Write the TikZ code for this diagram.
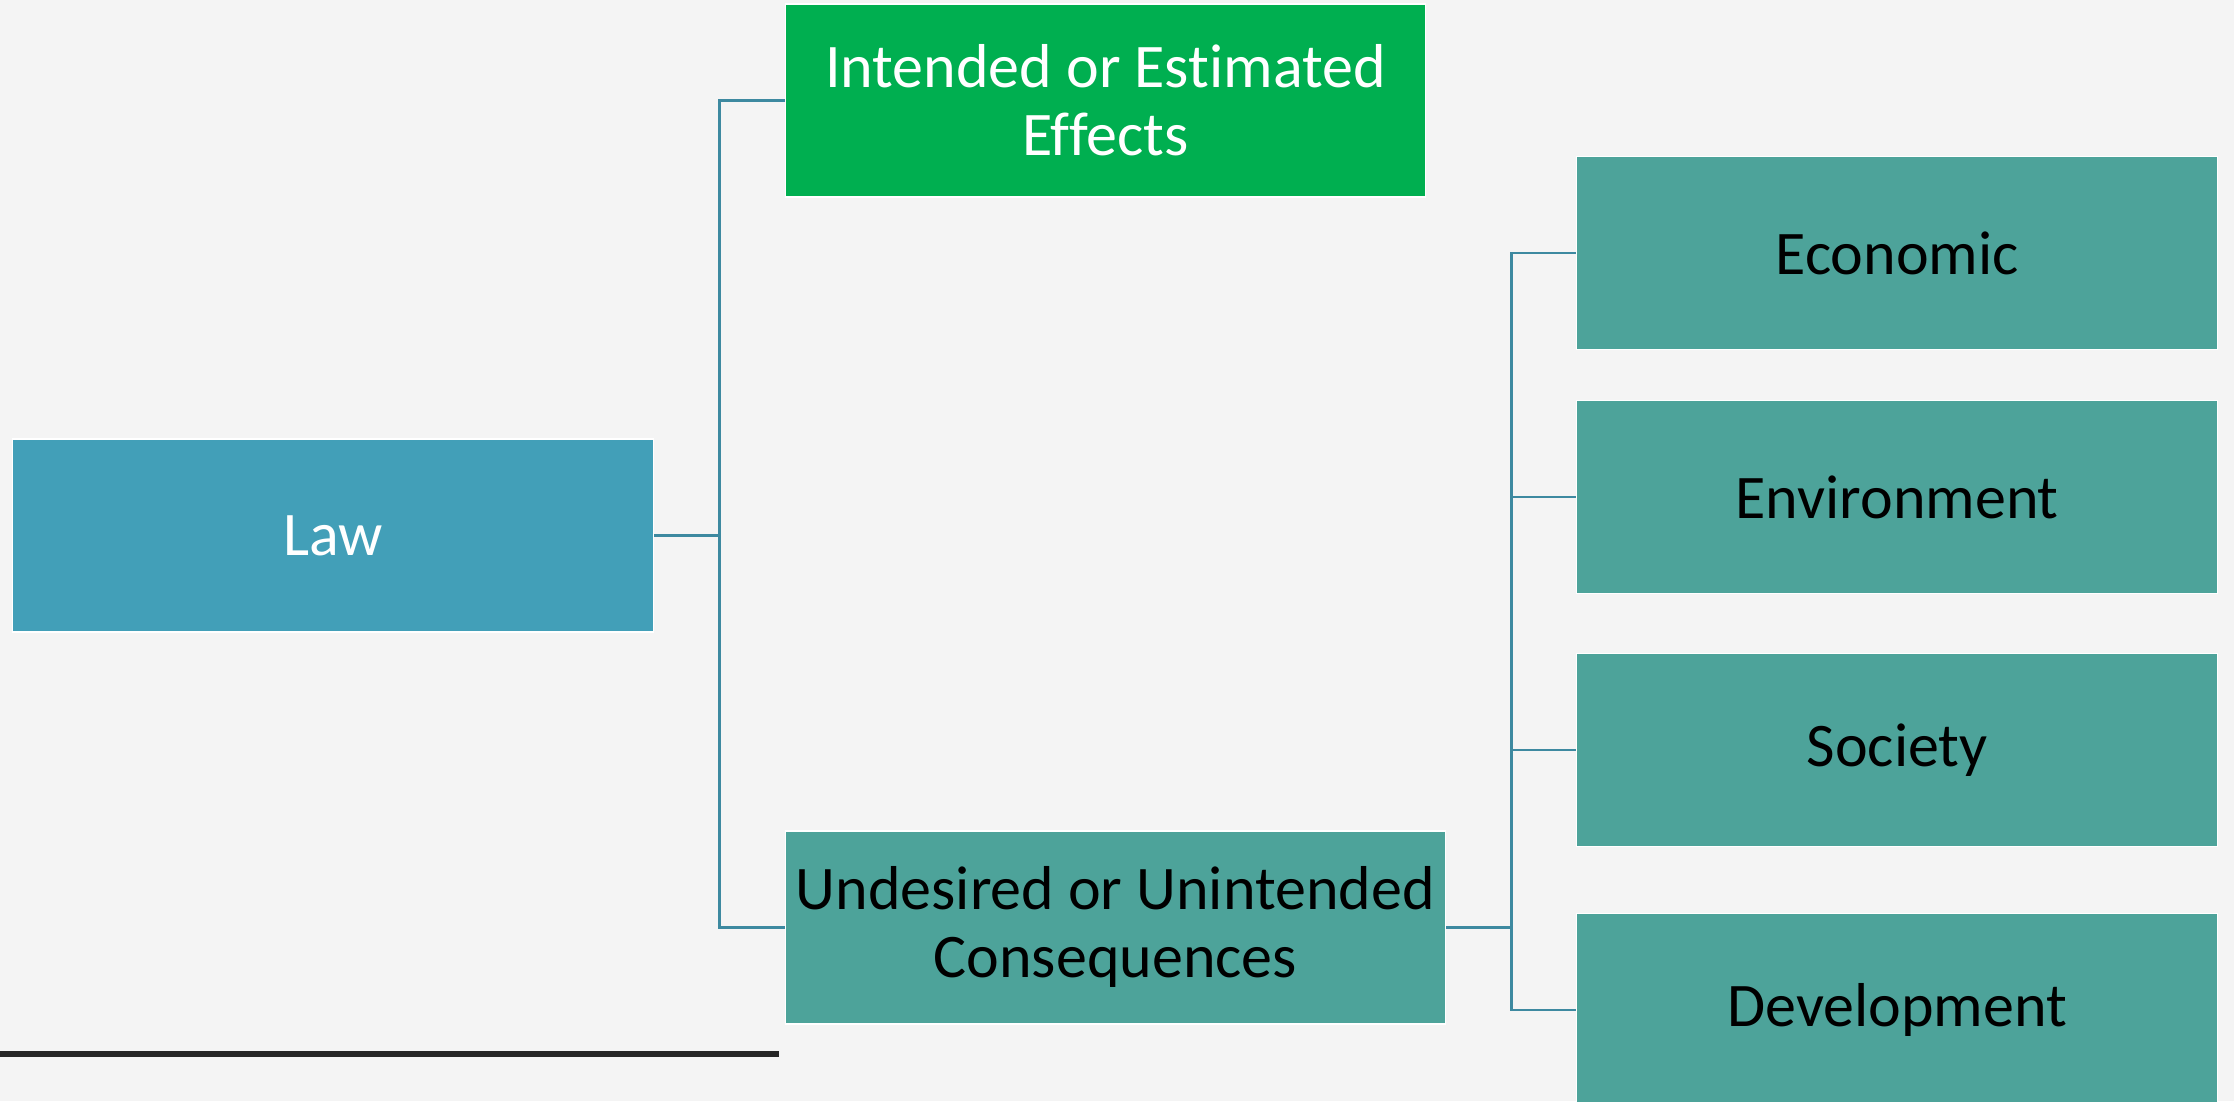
\documentclass[tikz,border=0pt]{standalone}
\usepackage{fontspec}
\setmainfont{Carlito}[Ligatures=NoCommon]
\begin{document}
\begin{tikzpicture}[x=1pt,y=-1pt,
  box/.style={draw=white,line width=1.5pt,inner sep=0pt,align=center,
    minimum width=641pt,minimum height=193pt,
    font=\fontsize{62}{68}\selectfont},
  lawbox/.style={box,fill=lawblue,text=white},
  goodbox/.style={box,fill=effgreen,text=white},
  tealbox/.style={box,fill=tealc,text=black},
  link/.style={draw=linkc,line width=2.5pt}
]
\definecolor{bgc}{HTML}{F4F4F4}
\definecolor{lawblue}{HTML}{429FB8}
\definecolor{effgreen}{HTML}{00AF50}
\definecolor{tealc}{HTML}{4DA39A}
\definecolor{linkc}{HTML}{3D89A0}
\definecolor{rulec}{HTML}{262626}

\useasboundingbox (0,0) rectangle (2234,1101);
\clip (0,0) rectangle (2234,1101);
\fill[bgc] (0,0) rectangle (2234,1101);

% root and first level
\node[lawbox] (law) at (333.2,535.6) {Law};
\node[goodbox,minimum width=640pt] (int) at (1105.5,100.5) {Intended or Estimated\\Effects};
\node[tealbox,minimum width=660pt] (und) at (1115.3,927.4) {Undesired or Unintended\\Consequences};

% second level
\node[tealbox] (eco) at (1897.2,253) {Economic};
\node[tealbox] (env) at (1897.2,497.2) {Environment};
\node[tealbox] (soc) at (1897.2,750) {Society};
\node[tealbox] (dev) at (1897.2,1010) {Development};

% trunk positions of the elbow connectors
\coordinate (trunkA) at (719.5,0);
\coordinate (trunkB) at (1511.5,0);

\draw[link] (law.east) -- (law.east -| trunkA) |- (int.west);
\draw[link] (law.east) -- (law.east -| trunkA) |- (und.west);
\foreach \c in {eco,env,soc,dev}
  \draw[link] (und.east) -- (und.east -| trunkB) |- (\c.west);

% rule under the chart
\coordinate (ruleL) at (0,1053.5);
\coordinate (ruleR) at (779,1053.5);
\draw[rulec,line width=6pt] (ruleL) -- (ruleR);
\end{tikzpicture}
\end{document}
